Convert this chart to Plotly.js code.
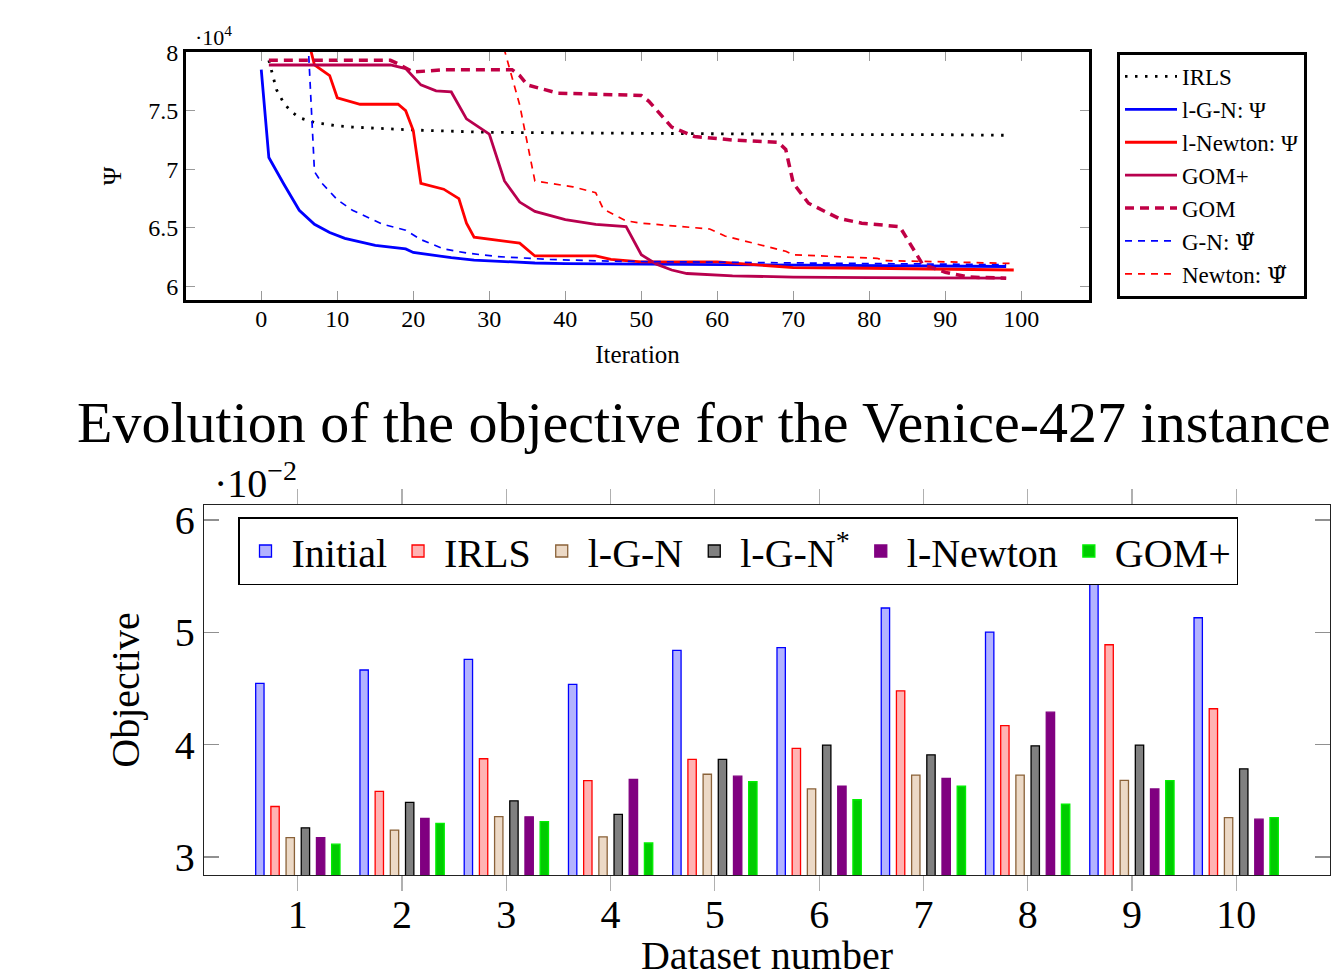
<!DOCTYPE html>
<html>
<head>
<meta charset="utf-8">
<script src="https://cdn.plot.ly/plotly-3.0.1.min.js"></script>
<style>
  html, body { margin: 0; padding: 0; background: #ffffff; }
  #chart { width: 1341px; height: 978px; }
</style>
</head>
<body>
<div id="chart"></div>
<script>
// ---------- Top chart: evolution of Psi (values in units of 10^4) ----------
const irlsIter = [1, 2, 3, 4, 5, 6, 7, 8, 10, 12, 15, 20, 30, 40, 50, 60, 70, 80, 90, 98];
const irlsPsi  = [7.93, 7.68, 7.56, 7.49, 7.44, 7.42, 7.40, 7.39, 7.37, 7.36, 7.35, 7.335, 7.315, 7.31, 7.305, 7.30, 7.30, 7.295, 7.295, 7.29];

const lgnIter = [0, 1, 3, 5, 7, 9, 11, 13, 15, 17, 19, 20, 22, 25, 28, 32, 36, 40, 50, 60, 70, 80, 90, 98];
const lgnPsi  = [7.85, 7.10, 6.87, 6.65, 6.53, 6.46, 6.41, 6.38, 6.35, 6.335, 6.32, 6.29, 6.27, 6.245, 6.225, 6.21, 6.20, 6.195, 6.19, 6.185, 6.18, 6.175, 6.175, 6.17];

const lnewtonIter = [6, 7, 9, 10, 13, 18, 19, 20, 21, 24, 26, 27, 28, 34, 36, 44, 46, 50, 60, 70, 80, 90, 99];
const lnewtonPsi  = [8.15, 7.89, 7.80, 7.61, 7.555, 7.555, 7.50, 7.33, 6.88, 6.83, 6.75, 6.54, 6.42, 6.37, 6.26, 6.26, 6.23, 6.21, 6.21, 6.16, 6.155, 6.15, 6.14];

const gomPlusIter = [1, 17, 19, 21, 23, 25, 27, 30, 32, 34, 36, 40, 44, 48, 50, 52, 54, 56, 62, 70, 80, 90, 98];
const gomPlusPsi  = [7.89, 7.89, 7.86, 7.72, 7.67, 7.66, 7.43, 7.30, 6.90, 6.72, 6.64, 6.57, 6.53, 6.51, 6.27, 6.19, 6.14, 6.11, 6.09, 6.08, 6.075, 6.07, 6.07];

const gomIter = [1, 17, 18, 20, 24, 33, 34, 35, 39, 50, 51, 53, 54, 57, 62, 68, 69, 70, 72, 76, 79, 84, 86, 87, 90, 93, 98];
const gomPsi  = [7.93, 7.93, 7.90, 7.83, 7.85, 7.85, 7.80, 7.72, 7.65, 7.63, 7.58, 7.44, 7.36, 7.28, 7.25, 7.23, 7.17, 6.88, 6.71, 6.58, 6.54, 6.51, 6.29, 6.19, 6.12, 6.08, 6.07];

const gnIter = [6, 7, 8, 10, 12, 14, 16, 19, 21, 24, 27, 31, 38, 46, 60, 70, 80, 90, 98];
const gnPsiT = [8.3, 6.98, 6.88, 6.74, 6.65, 6.59, 6.53, 6.48, 6.40, 6.32, 6.285, 6.255, 6.23, 6.215, 6.205, 6.20, 6.195, 6.19, 6.185];

const newtonIter = [31, 34, 36, 41, 44, 45, 48, 50, 59, 61, 69, 70, 81, 82, 90, 99];
const newtonPsiT = [8.25, 7.55, 6.90, 6.85, 6.80, 6.66, 6.56, 6.54, 6.49, 6.43, 6.30, 6.27, 6.24, 6.22, 6.21, 6.195];

const topTickVals = [6, 6.5, 7, 7.5, 8];
const topTickText = ['6', '6.5', '7', '7.5', '8'];

// ---------- Bottom chart: objective per dataset (units of 10^-2) ----------
const datasets = [1, 2, 3, 4, 5, 6, 7, 8, 9, 10];
const objInitial = [4.546, 4.665, 4.76, 4.537, 4.84, 4.864, 5.217, 5.003, 5.62, 5.13];
const objIRLS    = [3.45, 3.585, 3.875, 3.68, 3.87, 3.967, 4.48, 4.17, 4.89, 4.32];
const objLGN     = [3.173, 3.24, 3.36, 3.18, 3.737, 3.606, 3.73, 3.73, 3.683, 3.35];
const objLGNStar = [3.26, 3.486, 3.50, 3.38, 3.87, 3.997, 3.91, 3.99, 3.997, 3.785];
const objLNewton = [3.173, 3.343, 3.358, 3.69, 3.72, 3.63, 3.70, 4.29, 3.606, 3.337];
const objGOMPlus = [3.114, 3.30, 3.316, 3.125, 3.67, 3.51, 3.63, 3.47, 3.68, 3.35];

const FONT = 'Liberation Serif, Times New Roman, serif';
const PSI_TILDE = '<span style="font-family:DejaVu Serif">Ψ̃</span>';
const W = 1341, H = 978;
const px = v => v / W;
const py = v => 1 - v / H;

function lineTrace(name, x, y, color, width, dash) {
  return {
    type: 'scatter', mode: 'lines', name: name, x: x, y: y,
    xaxis: 'x', yaxis: 'y', legend: 'legend',
    line: {color: color, width: width, dash: dash},
    cliponaxis: true
  };
}

function barTrace(name, y, fill, stroke) {
  return {
    type: 'bar', name: name, x: datasets, y: y,
    xaxis: 'x2', yaxis: 'y2', legend: 'legend2',
    marker: {color: fill, line: {color: stroke, width: 1.3}}
  };
}

const traces = [
  lineTrace('IRLS', irlsIter, irlsPsi, '#000000', 2.8, '2.5px,7.5px'),
  lineTrace('l-G-N: Ψ', lgnIter, lgnPsi, '#0000ff', 2.8, 'solid'),
  lineTrace('l-Newton: Ψ', lnewtonIter, lnewtonPsi, '#ff0000', 2.8, 'solid'),
  lineTrace('GOM+', gomPlusIter, gomPlusPsi, '#b8004e', 2.8, 'solid'),
  lineTrace('GOM', gomIter, gomPsi, '#c00045', 3.5, '9px,6px'),
  lineTrace('G-N: ' + PSI_TILDE, gnIter, gnPsiT, '#0000ff', 1.7, '7px,6px'),
  lineTrace('Newton: ' + PSI_TILDE, newtonIter, newtonPsiT, '#ff0000', 1.7, '7px,6px'),
  barTrace('Initial', objInitial, '#b3b3ff', '#0000ff'),
  barTrace('IRLS', objIRLS, '#ffb3b3', '#ff0000'),
  barTrace('l-G-N', objLGN, '#ecd9c6', '#8a6239'),
  barTrace('l-G-N<sup>*</sup>', objLGNStar, '#808080', '#000000'),
  barTrace('l-Newton', objLNewton, '#800080', '#800080'),
  barTrace('GOM+', objGOMPlus, '#00cc00', '#00f000')
];

const layout = {
  width: W, height: H,
  margin: {l: 0, r: 0, t: 0, b: 0},
  paper_bgcolor: '#ffffff', plot_bgcolor: '#ffffff',
  font: {family: FONT, color: '#000000'},
  barmode: 'group', bargap: 0.126, bargroupgap: 0.45,
  xaxis: {
    domain: [px(186), px(1089)], anchor: 'y',
    range: [-9.9, 108.9], tick0: 0, dtick: 10,
    ticks: 'inside', ticklen: 9, tickcolor: '#9a9a9a', tickwidth: 1,
    showline: true, linecolor: '#000000', linewidth: 3, mirror: 'ticks',
    showgrid: false, zeroline: false, ticklabelstandoff: -5,
    tickfont: {family: FONT, size: 24, color: '#000000'},
    title: {text: 'Iteration', font: {family: FONT, size: 25}, standoff: 15}
  },
  yaxis: {
    domain: [py(300), py(52)], anchor: 'x',
    range: [5.884, 8.001], tickvals: topTickVals, ticktext: topTickText,
    ticks: 'inside', ticklen: 9, tickcolor: '#9a9a9a', tickwidth: 1,
    showline: true, linecolor: '#000000', linewidth: 3, mirror: 'ticks',
    showgrid: false, zeroline: false,
    tickfont: {family: FONT, size: 24, color: '#000000'},
    title: {text: 'Ψ', font: {family: FONT, size: 25}, standoff: 20}
  },
  xaxis2: {
    domain: [px(204), px(1330)], anchor: 'y2',
    range: [0.1, 10.9], tick0: 1, dtick: 1,
    ticks: 'outside', ticklen: 15, tickcolor: '#b0b0b0', tickwidth: 1.2,
    showline: true, linecolor: '#222222', linewidth: 1.3, mirror: 'ticks',
    showgrid: false, zeroline: false, ticklabelstandoff: -11,
    tickfont: {family: FONT, size: 40, color: '#000000'},
    title: {text: 'Dataset number', font: {family: FONT, size: 40}, standoff: 32}
  },
  yaxis2: {
    domain: [py(875), py(505)], anchor: 'x2',
    range: [2.84, 6.134], tick0: 3, dtick: 1,
    ticks: 'inside', ticklen: 15, tickcolor: '#909090', tickwidth: 1.2,
    showline: true, linecolor: '#222222', linewidth: 1.3, mirror: 'ticks',
    showgrid: false, zeroline: false,
    tickfont: {family: FONT, size: 40, color: '#000000'},
    title: {text: 'Objective', font: {family: FONT, size: 40}, standoff: 22}
  },
  legend: {
    x: px(1117), y: py(52), xanchor: 'left', yanchor: 'top',
    bgcolor: '#ffffff', bordercolor: '#000000', borderwidth: 3,
    font: {family: FONT, size: 23, color: '#000000'},
    tracegroupgap: 0, itemwidth: 52
  },
  legend2: {
    x: px(238), y: py(517), xanchor: 'left', yanchor: 'top',
    orientation: 'h',
    bgcolor: '#ffffff', bordercolor: '#000000', borderwidth: 1.5,
    font: {family: FONT, size: 40, color: '#000000'},
    itemwidth: 42
  },
  annotations: [
    {text: '·10<sup>4</sup>', xref: 'paper', yref: 'paper', x: px(193), y: py(36),
     xanchor: 'left', yanchor: 'middle', showarrow: false,
     font: {family: FONT, size: 22, color: '#000000'}},
    {text: 'Evolution of the objective for the Venice-427 instance', xref: 'paper', yref: 'paper',
     x: px(75), y: py(422), xanchor: 'left', yanchor: 'middle', showarrow: false,
     font: {family: FONT, size: 58, color: '#000000'}},
    {text: '·10<sup>−2</sup>', xref: 'paper', yref: 'paper', x: px(212), y: py(480),
     xanchor: 'left', yanchor: 'middle', showarrow: false,
     font: {family: FONT, size: 40, color: '#000000'}}
  ],
  showlegend: true
};

Plotly.newPlot('chart', traces, layout, {displayModeBar: false, staticPlot: true});
</script>
</body>
</html>
